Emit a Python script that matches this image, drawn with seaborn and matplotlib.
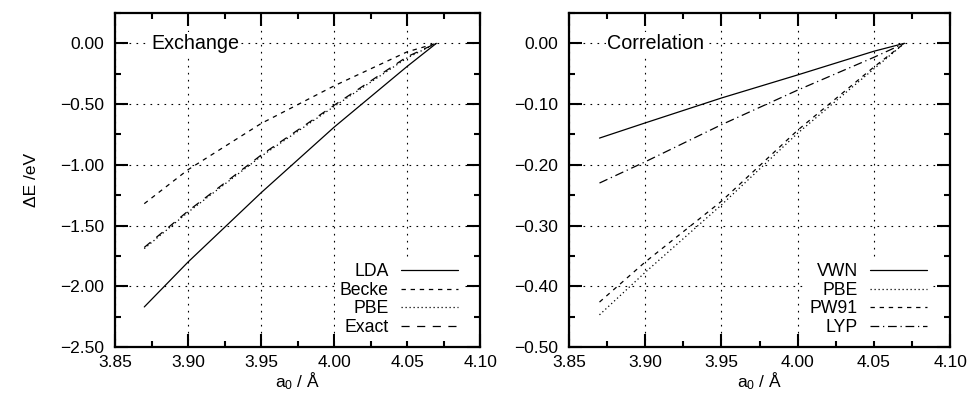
import matplotlib
matplotlib.use('Agg')
import matplotlib.pyplot as plt
import seaborn as sns
import pandas as pd
import numpy as np
from matplotlib.ticker import MultipleLocator, FuncFormatter

# lattice constant grid (Angstrom)
a0 = [3.87, 3.90, 3.95, 4.00, 4.05, 4.07]

# exchange energies (eV)
ex_labels = ['LDA', 'Becke', 'PBE', 'Exact']
ex_lda = [-2.17, -1.80, -1.23, -0.69, -0.19, 0.00]
ex_becke = [-1.32, -1.04, -0.66, -0.35, -0.07, 0.00]
ex_pbe = [-1.69, -1.39, -0.93, -0.52, -0.12, 0.00]
ex_exact = [-1.68, -1.38, -0.92, -0.51, -0.11, 0.00]

# correlation energies (eV)
corr_labels = ['VWN', 'PBE', 'PW91', 'LYP']
corr_vwn = [-0.156, -0.131, -0.090, -0.052, -0.013, 0.000]
corr_pbe = [-0.447, -0.377, -0.266, -0.148, -0.042, 0.000]
corr_pw91 = [-0.426, -0.360, -0.260, -0.143, -0.039, 0.000]
corr_lyp = [-0.230, -0.195, -0.134, -0.077, -0.023, 0.000]

sns.set_style('ticks')
plt.rcParams['font.family'] = ['Liberation Sans', 'DejaVu Sans']
plt.rcParams['mathtext.default'] = 'regular'
plt.rcParams['text.color'] = 'black'
plt.rcParams['axes.labelcolor'] = 'black'

FS = 12.5
LEG_FS = 12.7
TITLE_FS = 14.2
dash_styles = {
    'solid': '-',
    'short': (0, (3.5, 3.8)),
    'dot': (0, (1.0, 2.2)),
    'long': (0, (6.5, 6.0)),
    'dashdot': (0, (7, 3, 1, 3)),
}


def fmt2(v, pos):
    return ('%.2f' % v).replace('-', '\u2212')


fig = plt.figure(figsize=(9.71, 3.93), dpi=100)
ax1 = fig.add_axes([0.1185, 0.117, 0.3760, 0.850])
ax2 = fig.add_axes([0.5860, 0.117, 0.3925, 0.850])


def style_axis(ax, ylim, ymajor, yminor, title):
    ax.set_xlim(3.85, 4.10)
    ax.set_ylim(*ylim)
    ax.xaxis.set_major_locator(MultipleLocator(0.05))
    ax.xaxis.set_minor_locator(MultipleLocator(0.025))
    ax.yaxis.set_major_locator(MultipleLocator(ymajor))
    ax.yaxis.set_minor_locator(MultipleLocator(yminor))
    ax.xaxis.set_major_formatter(FuncFormatter(fmt2))
    ax.yaxis.set_major_formatter(FuncFormatter(fmt2))
    ax.tick_params(which='both', direction='in', top=True, right=True,
                   colors='black', labelsize=FS)
    ax.tick_params(which='major', length=9.5, width=1.5)
    ax.tick_params(which='minor', length=4.5, width=1.5)
    ax.tick_params(axis='y', which='major', pad=8)
    ax.tick_params(axis='x', which='major', pad=6)
    for sp in ax.spines.values():
        sp.set_linewidth(1.6)
        sp.set_color('black')
    ax.grid(True, which='major', color='black', linewidth=0.8,
            linestyle=(0, (1.5, 4.8)))
    ax.set_axisbelow(True)
    ax.set_xlabel('a$_{0}$ / Å', fontsize=FS, labelpad=0, color='black')
    ax.text(3.875, 0.0, title, fontsize=TITLE_FS, va='center', ha='left',
            color='black',
            bbox=dict(facecolor='white', edgecolor='none', pad=1.0), zorder=3)
    leg = ax.legend(loc='lower right', bbox_to_anchor=(0.954, 0.018),
                    markerfirst=False, fontsize=LEG_FS,
                    frameon=True, framealpha=1, facecolor='white',
                    edgecolor='none', fancybox=False, handlelength=3.25,
                    handletextpad=0.68, labelspacing=0.08, borderpad=0.3,
                    borderaxespad=0.0, labelcolor='black')
    leg.set_zorder(5)


ex_series = [ex_lda, ex_becke, ex_pbe, ex_exact]
ex_ls = ['solid', 'short', 'dot', 'long']
for lab, vals, ls in zip(ex_labels, ex_series, ex_ls):
    sns.lineplot(x=a0, y=vals, ax=ax1, color='black', linewidth=0.9,
                 linestyle=dash_styles[ls], label=lab)
style_axis(ax1, (-2.5, 0.25), 0.5, 0.25, 'Exchange')
ax1.set_ylabel('ΔE /eV', fontsize=FS, labelpad=15, color='black')

corr_series = [corr_vwn, corr_pbe, corr_pw91, corr_lyp]
corr_ls = ['solid', 'dot', 'short', 'dashdot']
for lab, vals, ls in zip(corr_labels, corr_series, corr_ls):
    sns.lineplot(x=a0, y=vals, ax=ax2, color='black', linewidth=0.9,
                 linestyle=dash_styles[ls], label=lab)
style_axis(ax2, (-0.5, 0.05), 0.1, 0.05, 'Correlation')

fig.savefig('out.png', dpi=100)
